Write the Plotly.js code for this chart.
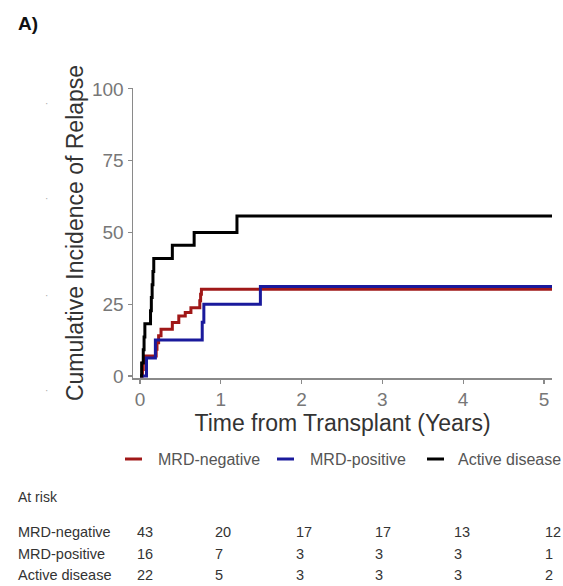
<!DOCTYPE html>
<html>
<head>
<meta charset="utf-8">
<script src="https://cdn.plot.ly/plotly-3.0.1.min.js"></script>
<style>html,body{margin:0;padding:0;background:#fff}#chart{width:563px;height:586px}</style>
</head>
<body>
<div id="chart"></div>
<script>
// ---- Data ----
const groups = ["MRD-negative", "MRD-positive", "Active disease"];
const colors = ["#a01818", "#1a1a9c", "#000000"];

const timeNeg = [0, 0.03, 0.04, 0.05, 0.20, 0.21, 0.23, 0.26, 0.40, 0.48, 0.56, 0.63, 0.74, 0.75, 0.76, 5.1];
const cirNeg  = [0, 2.3, 4.7, 7.0, 9.3, 11.6, 14.0, 16.3, 18.6, 20.9, 22.1, 23.8, 26.2, 28.5, 30.2, 30.2];

const timePos = [0, 0.08, 0.19, 0.77, 0.79, 1.49, 5.1];
const cirPos  = [0, 6.25, 12.5, 18.75, 25.0, 31.2, 31.2];

const timeAct = [0, 0.02, 0.04, 0.05, 0.06, 0.13, 0.14, 0.15, 0.16, 0.17, 0.40, 0.67, 1.20, 5.1];
const cirAct  = [0, 4.5, 9.1, 13.6, 18.2, 22.7, 27.3, 31.8, 36.4, 40.9, 45.5, 50.0, 55.7, 55.7];

const xTicks = [0, 1, 2, 3, 4, 5];
const yTicks = [0, 25, 50, 75, 100];

const riskRows = ["MRD-negative", "MRD-positive", "Active disease"];
const riskNeg = [43, 20, 17, 17, 13, 12];
const riskPos = [16, 7, 3, 3, 3, 1];
const riskAct = [22, 5, 3, 3, 3, 2];

// ---- Layout geometry (pixels) ----
const W = 563, H = 586;
const L = 133, R = 552, T = 88, B = 378;
const px = x => (x - L) / (R - L);
const py = y => (B - y) / (B - T);

const series = [[timeNeg, cirNeg], [timePos, cirPos], [timeAct, cirAct]];
const traces = series.map((s, i) => ({
  x: s[0], y: s[1], type: "scatter", mode: "lines", name: groups[i],
  line: {color: colors[i], width: 3, shape: "hv"}, showlegend: false, hoverinfo: "skip"
}));

const ann = [];
const shapes = [];
const FONT = "Liberation Sans, Arial, sans-serif";

// panel label
ann.push({text: "<b>A)</b>", xref: "paper", yref: "paper", x: px(16), y: py(23), xanchor: "left", yanchor: "middle",
  showarrow: false, font: {family: FONT, size: 19, color: "#111"}});

// stray dots
[103, 198, 295, 390].forEach(yy => ann.push({text: "·", xref: "paper", yref: "paper", x: px(46), y: py(yy),
  xanchor: "center", yanchor: "middle", showarrow: false, font: {family: FONT, size: 10, color: "#aaa"}}));

// legend
const legSample = [125, 277, 427];
const legText = [156, 308, 456];
groups.forEach((g, i) => {
  shapes.push({type: "line", xref: "paper", yref: "paper", x0: px(legSample[i]), x1: px(legSample[i] + 17),
    y0: py(459), y1: py(459), line: {color: colors[i], width: 3}});
  ann.push({text: g, xref: "paper", yref: "paper", x: px(legText[i]), y: py(459), xanchor: "left", yanchor: "middle",
    showarrow: false, font: {family: FONT, size: 16, color: "#555"}});
});

// risk table
ann.push({text: "At risk", xref: "paper", yref: "paper", x: px(16), y: py(497), xanchor: "left", yanchor: "middle",
  showarrow: false, font: {family: FONT, size: 14, color: "#333"}});
const rowY = [532, 554, 575];
const colX = [135, 213, 294, 373, 452, 543];
[riskNeg, riskPos, riskAct].forEach((row, r) => {
  ann.push({text: riskRows[r], xref: "paper", yref: "paper", x: px(16), y: py(rowY[r]), xanchor: "left", yanchor: "middle",
    showarrow: false, font: {family: FONT, size: 14.5, color: "#333"}});
  row.forEach((v, c) => ann.push({text: String(v), xref: "paper", yref: "paper", x: px(colX[c]), y: py(rowY[r]),
    xanchor: "left", yanchor: "middle", showarrow: false, font: {family: FONT, size: 14.5, color: "#333"}}));
});

const layout = {
  width: W, height: H,
  margin: {l: L, r: W - R, t: T, b: H - B, pad: 0},
  paper_bgcolor: "#fff", plot_bgcolor: "#fff",
  font: {family: FONT},
  xaxis: {
    range: [-0.087, 5.1], tickvals: xTicks, ticktext: xTicks.map(String),
    showgrid: false, zeroline: false, showline: true, linecolor: "#8a8a8a", linewidth: 1.5,
    ticks: "outside", ticklen: 4, tickcolor: "#8a8a8a", tickwidth: 1.2,
    tickfont: {size: 19, color: "#777", family: FONT},
    title: {text: "Time from Transplant (Years)", font: {size: 23, color: "#333", family: FONT}, standoff: 1},
    automargin: false
  },
  yaxis: {
    range: [-0.7, 100.3], tickvals: yTicks, ticktext: yTicks.map(String),
    showgrid: false, zeroline: false, showline: true, linecolor: "#8a8a8a", linewidth: 1.5,
    ticks: "outside", ticklen: 4, tickcolor: "#8a8a8a", tickwidth: 1.2,
    tickfont: {size: 19, color: "#777", family: FONT},
    title: {text: "Cumulative Incidence of Relapse", font: {size: 23, color: "#333", family: FONT}, standoff: 2},
    automargin: false
  },
  annotations: ann,
  shapes: shapes,
  showlegend: false
};

Plotly.newPlot("chart", traces, layout, {displayModeBar: false, staticPlot: true});
</script>
</body>
</html>
